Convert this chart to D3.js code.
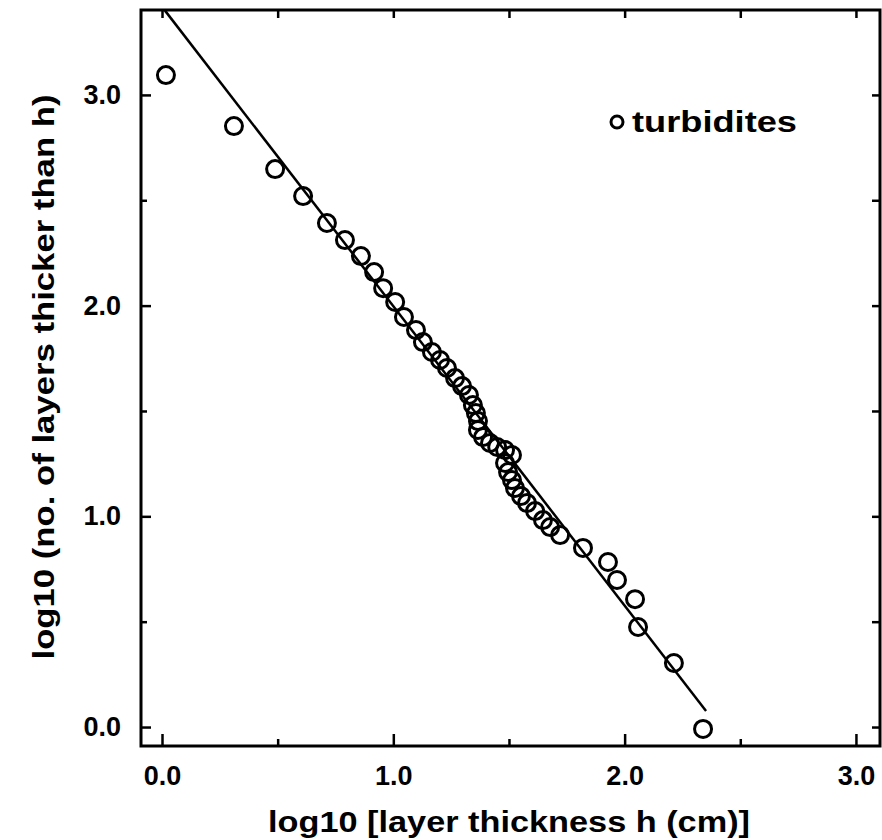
<!DOCTYPE html>
<html>
<head>
<meta charset="utf-8">
<script src="https://cdn.jsdelivr.net/npm/d3@7"></script>
<style>
  body { margin: 0; background: #fff; }
  svg { display: block; }
  text { font-family: "Liberation Sans", Arial, sans-serif; font-weight: bold; fill: #000; }
</style>
</head>
<body>
<svg id="chart" width="882" height="840"></svg>
<script>
// log10 thickness (x) and log10 cumulative count (y)
const thick = [0.017, 0.311, 0.489, 0.610, 0.713, 0.791, 0.860, 0.917, 0.956, 1.008,
  1.046, 1.098, 1.128, 1.167, 1.202, 1.232, 1.267, 1.297, 1.327, 1.344,
  1.357, 1.366, 1.366, 1.388, 1.418, 1.449, 1.483, 1.513, 1.483, 1.496,
  1.513, 1.526, 1.552, 1.578, 1.613, 1.647, 1.678, 1.721, 1.820, 1.928,
  1.967, 2.045, 2.058, 2.213, 2.339];
const count = [3.094, 2.852, 2.648, 2.520, 2.392, 2.311, 2.235, 2.159, 2.083, 2.017,
  1.946, 1.884, 1.827, 1.780, 1.742, 1.704, 1.656, 1.618, 1.576, 1.528,
  1.490, 1.452, 1.410, 1.376, 1.348, 1.329, 1.315, 1.291, 1.253, 1.210,
  1.172, 1.134, 1.096, 1.063, 1.025, 0.982, 0.949, 0.911, 0.850, 0.783,
  0.698, 0.607, 0.475, 0.304, -0.009];

// fitted power-law line ends
const fitX = [0.013, 2.352];
const fitY = [3.40, 0.076];

const majorTicks = [0, 1, 2, 3];
const minorTicks = [0.5, 1.5, 2.5];
const seriesName = "turbidites";

const svg = d3.select("#chart");
const plotL = 141, plotR = 880, plotT = 10, plotB = 746;

const x = d3.scaleLinear().domain([-0.0908, 3.104]).range([plotL, plotR]);
const y = d3.scaleLinear().domain([-0.090, 3.403]).range([plotB, plotT]);

const fmt = d3.format(".1f");

// axes: ticks pointing inward
svg.append("g")
  .attr("transform", `translate(0,${plotB})`)
  .call(d3.axisBottom(x).tickValues(majorTicks).tickSize(-12).tickPadding(20).tickFormat(fmt))
  .call(g => g.select(".domain").remove())
  .call(g => g.selectAll("text").attr("font-size", 27).attr("dy", "0.71em"));
svg.append("g")
  .attr("transform", `translate(0,${plotB})`)
  .call(d3.axisBottom(x).tickValues(minorTicks).tickSize(-7).tickFormat(""))
  .call(g => g.select(".domain").remove());

svg.append("g")
  .attr("transform", `translate(${plotL},0)`)
  .call(d3.axisLeft(y).tickValues(majorTicks).tickSize(-10).tickPadding(20).tickFormat(fmt))
  .call(g => g.select(".domain").remove())
  .call(g => g.selectAll("text").attr("font-size", 27));
svg.append("g")
  .attr("transform", `translate(${plotL},0)`)
  .call(d3.axisLeft(y).tickValues(minorTicks).tickSize(-6).tickFormat(""))
  .call(g => g.select(".domain").remove());

svg.append("g")
  .attr("transform", `translate(0,${plotT})`)
  .call(d3.axisTop(x).tickValues(majorTicks.concat(minorTicks)).tickSize(-8).tickFormat(""))
  .call(g => g.select(".domain").remove());
svg.append("g")
  .attr("transform", `translate(${plotR},0)`)
  .call(d3.axisRight(y).tickValues(majorTicks.concat(minorTicks)).tickSize(-8).tickFormat(""))
  .call(g => g.select(".domain").remove());

svg.selectAll(".tick line").attr("stroke", "#000").attr("stroke-width", 2.5);

// frame
svg.append("rect")
  .attr("x", plotL).attr("y", plotT)
  .attr("width", plotR - plotL).attr("height", plotB - plotT)
  .attr("fill", "none").attr("stroke", "#000").attr("stroke-width", 3);

// fit line
svg.append("line")
  .attr("x1", x(fitX[0])).attr("y1", y(fitY[0]))
  .attr("x2", x(fitX[1])).attr("y2", y(fitY[1]))
  .attr("stroke", "#000").attr("stroke-width", 2.5);

// data circles
svg.append("g")
  .selectAll("circle")
  .data(thick.map((t, i) => [t, count[i]]))
  .join("circle")
  .attr("cx", d => x(d[0]))
  .attr("cy", d => y(d[1]))
  .attr("r", 8.5)
  .attr("fill", "none")
  .attr("stroke", "#000")
  .attr("stroke-width", 3);

// legend
svg.append("circle")
  .attr("cx", 617).attr("cy", 122).attr("r", 6)
  .attr("fill", "none").attr("stroke", "#000").attr("stroke-width", 3);
svg.append("text")
  .attr("x", 632).attr("y", 132)
  .attr("font-size", 30)
  .attr("textLength", 165)
  .attr("lengthAdjust", "spacingAndGlyphs")
  .text(seriesName);

// axis titles
svg.append("text")
  .attr("x", 509).attr("y", 832)
  .attr("text-anchor", "middle")
  .attr("font-size", 30)
  .attr("textLength", 482)
  .attr("lengthAdjust", "spacingAndGlyphs")
  .text("log10 [layer thickness h (cm)]");
svg.append("text")
  .attr("transform", "translate(54,377) rotate(-90)")
  .attr("text-anchor", "middle")
  .attr("font-size", 30)
  .attr("textLength", 565)
  .attr("lengthAdjust", "spacingAndGlyphs")
  .text("log10 (no. of layers thicker than h)");
</script>
</body>
</html>
